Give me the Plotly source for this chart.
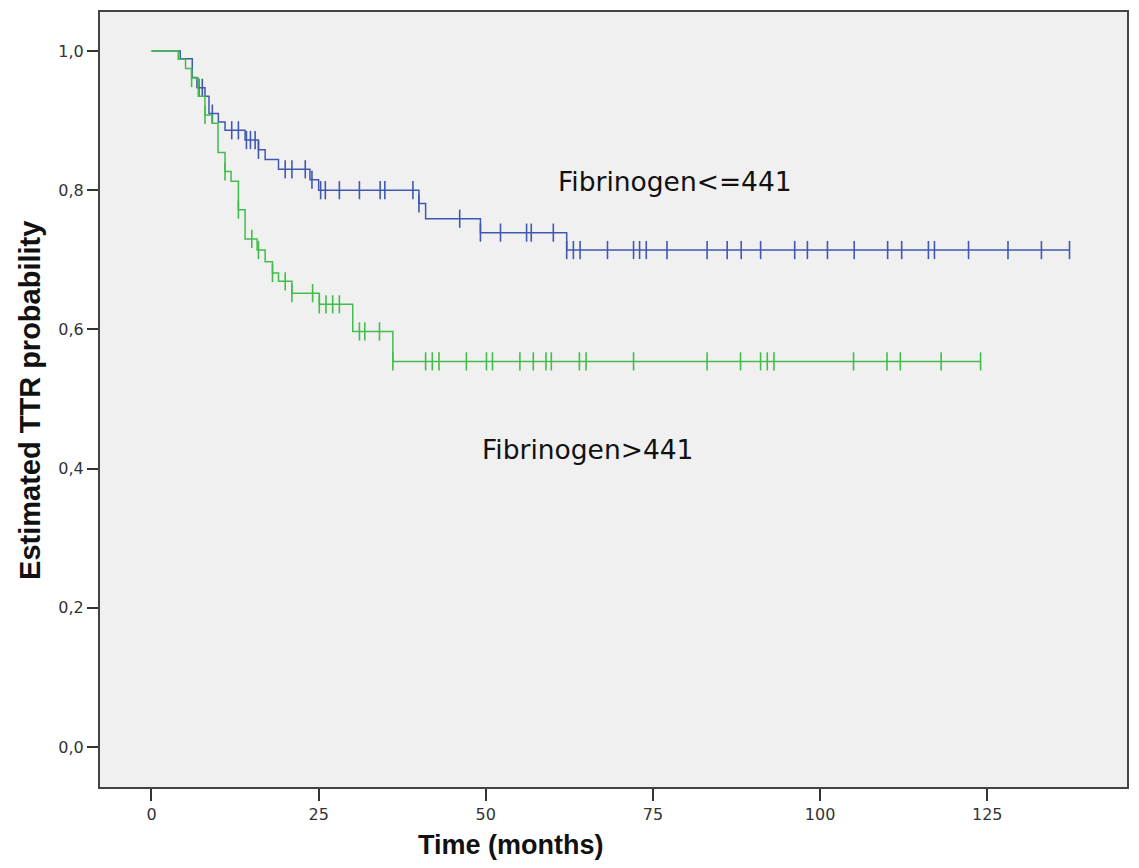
import numpy as np
import plotly.graph_objects as go

# ---- data (Kaplan-Meier estimates) ----
blue_label = "Fibrinogen<=441"
blue_times = [0, 4.3, 6.1, 6.8, 8.0, 8.6, 10.0, 11.0, 14.0, 16.0, 17.0, 19.0, 23.7, 25.0, 40.0, 41.0, 49.2, 62.1]
blue_surv = [1.0, 0.989, 0.962, 0.947, 0.935, 0.910, 0.898, 0.886, 0.872, 0.858, 0.844, 0.830, 0.815, 0.800,
             0.781, 0.759, 0.739, 0.714]
blue_censor = [7.1, 7.6, 9.1, 12.0, 13.0, 14.2, 14.8, 15.5, 16.0, 20.0, 21.0, 23.0, 24.0, 25.3, 26.0, 28.1,
               31.1, 34.2, 34.9, 39.1, 40.0, 46.1, 49.2, 52.2, 56.1, 56.8, 60.1, 62.1, 63.1, 64.1, 68.2, 72.1,
               73.0, 74.0, 77.1, 83.1, 86.1, 88.2, 91.1, 96.2, 98.1, 101.1, 105.1, 110.1, 112.2, 116.2, 117.1,
               122.2, 128.1, 133.1, 137.3]

green_label = "Fibrinogen>441"
green_times = [0, 4.0, 5.1, 6.0, 7.0, 8.0, 9.05, 9.95, 11.0, 11.9, 13.0, 14.0, 15.8, 17.0, 18.1, 19.0, 21.0,
               25.1, 30.1, 36.1]
green_surv = [1.0, 0.988, 0.975, 0.961, 0.935, 0.908, 0.896, 0.854, 0.827, 0.813, 0.772, 0.730, 0.714, 0.697,
              0.681, 0.669, 0.652, 0.636, 0.597, 0.554]
green_censor = [6.0, 8.0, 11.0, 13.0, 15.0, 16.0, 18.1, 20.0, 21.0, 24.1, 25.1, 26.1, 27.1, 28.1, 31.1, 31.9,
                34.1, 36.1, 41.0, 42.0, 43.0, 47.1, 50.1, 51.0, 55.1, 57.1, 59.0, 59.8, 64.0, 65.0, 72.1, 83.1,
                88.1, 91.1, 92.1, 93.1, 105.0, 110.0, 112.0, 118.1, 124.0]

x_ticks = [0, 25, 50, 75, 100, 125]
y_ticks = [0.0, 0.2, 0.4, 0.6, 0.8, 1.0]
y_ticktext = ["0,0", "0,2", "0,4", "0,6", "0,8", "1,0"]

BLUE = "#4058b0"
GREEN = "#42bd4b"


def step_value(times, surv, t):
    idx = np.searchsorted(np.array(times), t, side="right") - 1
    return surv[max(idx, 0)]


fig = go.Figure()

for times, surv, cens, color, name in [
    (blue_times, blue_surv, blue_censor, BLUE, blue_label),
    (green_times, green_surv, green_censor, GREEN, green_label),
]:
    end = max(cens[-1], times[-1])
    fig.add_trace(go.Scatter(
        x=times + [end], y=surv + [surv[-1]], mode="lines", name=name,
        line=dict(shape="hv", color=color, width=1.5), showlegend=False, hoverinfo="skip"))
    fig.add_trace(go.Scatter(
        x=cens, y=[step_value(times, surv, t) for t in cens], mode="markers", name=name + " censored",
        marker=dict(symbol="line-ns-open", size=13, color=color, line=dict(width=1.6, color=color)),
        showlegend=False))

tick_font = dict(family="DejaVu Sans, Lato, sans-serif", size=16, color="#333333")

fig.update_layout(
    width=1123, height=852,
    margin=dict(l=92, r=2, t=4, b=73),
    paper_bgcolor="white",
    plot_bgcolor="#f0f0f0",
    xaxis=dict(range=[-7.7, 145.9], tickvals=x_ticks, ticks="outside", ticklen=12, tickwidth=1.6,
               tickcolor="#333333", showline=True, linecolor="#444444", linewidth=2, mirror=True,
               showgrid=False, zeroline=False, tickfont=tick_font),
    yaxis=dict(range=[-0.0575, 1.056], tickvals=y_ticks, ticktext=y_ticktext, ticks="outside",
               ticklen=11, tickwidth=1.6, tickcolor="#333333", showline=True, linecolor="#444444",
               linewidth=2, mirror=True, showgrid=False, zeroline=False, tickfont=tick_font),
    annotations=[
        dict(x=78.3, y=0.812, xref="x", yref="y", text=blue_label, showarrow=False,
             font=dict(family="DejaVu Sans, sans-serif", size=26.5, color="#111111")),
        dict(x=65.2, y=0.427, xref="x", yref="y", text=green_label, showarrow=False,
             font=dict(family="DejaVu Sans, sans-serif", size=26.5, color="#111111")),
        dict(x=0.40, y=-0.075, xref="paper", yref="paper", text="<b>Time (months)</b>", showarrow=False,
             xanchor="center", yanchor="middle",
             font=dict(family="Liberation Sans, Arial, sans-serif", size=27, color="#111111")),
        dict(x=-0.0675, y=0.499, xref="paper", yref="paper", text="<b>Estimated TTR probability</b>",
             showarrow=False, textangle=-90, xanchor="center", yanchor="middle",
             font=dict(family="Liberation Sans, Arial, sans-serif", size=29, color="#111111")),
    ],
)

fig.write_html("out.html")
